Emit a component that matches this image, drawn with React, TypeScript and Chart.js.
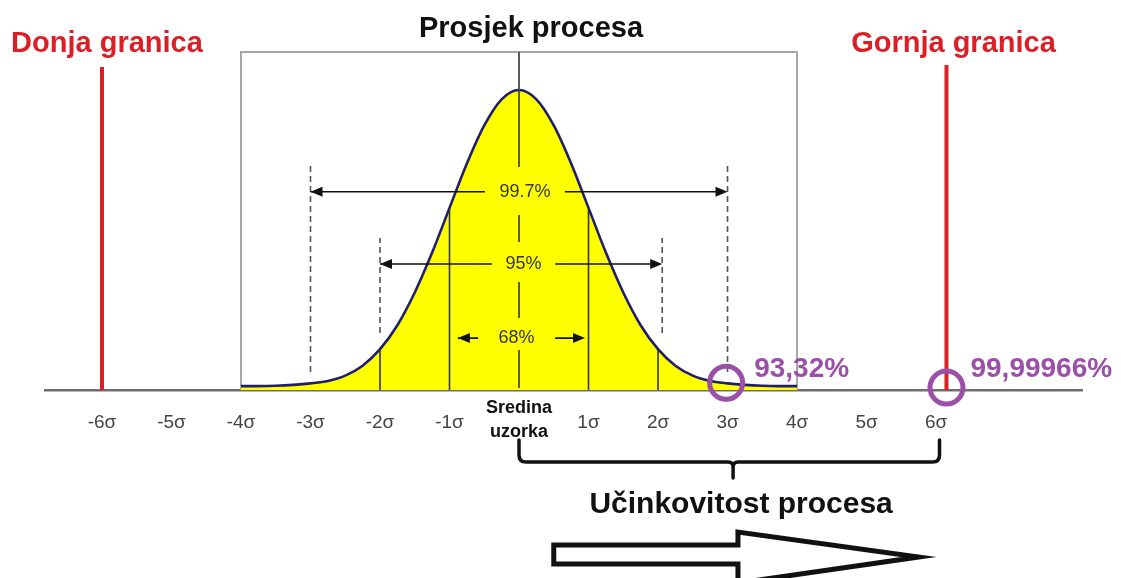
import React, { useEffect, useRef } from 'react';
import { Chart, registerables } from 'chart.js';

Chart.register(...registerables);

const FONT = 'Arial, "Liberation Sans", Helvetica, sans-serif';
const RED = '#dc1f26';
const PURPLE = '#9b4fa9';

// axis
const tickValues = [-6, -5, -4, -3, -2, -1, 0, 1, 2, 3, 4, 5, 6];
const tickLabels: (string | string[])[] = ['-6σ', '-5σ', '-4σ', '-3σ', '-2σ', '-1σ', ['Sredina', 'uzorka'], '1σ', '2σ', '3σ', '4σ', '5σ', '6σ'];

// bell curve (height in % of peak)
const curveX = [-4, -3.75, -3.5, -3.25, -3, -2.75, -2.5, -2.25, -2, -1.75, -1.5, -1.25, -1, -0.75, -0.5, -0.25, 0, 0.25, 0.5, 0.75, 1, 1.25, 1.5, 1.75, 2, 2.25, 2.5, 2.75, 3, 3.25, 3.5, 3.75, 4];
const curveY = [1.3, 1.3, 1.4, 1.7, 2.2, 3.0, 4.8, 8.1, 13.6, 21.6, 32.5, 45.8, 60.7, 75.5, 88.2, 96.9, 100, 96.9, 88.2, 75.5, 60.7, 45.8, 32.5, 21.6, 13.6, 8.1, 4.8, 3.0, 2.2, 1.7, 1.4, 1.3, 1.3];

// frame around the curve
const boxX = [-4, 4];
const boxTop = 112.7;

// specification limits (Donja / Gornja granica)
const limitX = [-6, 6.15];
const limitTop = [107.7, 108.3];
const limitLabels = ['Donja granica', 'Gornja granica'];

// mean line pieces (broken by the percentage labels)
const meanSegments: [number, number][] = [[112.7, 74.3], [58.3, 49.3], [36, 24], [13.3, 0.7]];

// solid sigma lines under the curve
const sigmaLineX = [-2, -1, 1, 2];

// dashed guide lines
const guideX = [-3, -2, 2.06, 3];
const guideTop = [75, 50.7, 50.7, 75];
const guideBottom = [6, 19, 19, 6];

// span arrows
const arrowLabels = ['99.7%', '95%', '68%'];
const arrowLevel = [66.1, 42, 17.3];
const arrowFrom = [-3, -2, -0.88];
const arrowTo = [3, 2.06, 0.95];
const arrowGapFrom = [-0.49, -0.39, -0.59];
const arrowGapTo = [0.66, 0.52, 0.52];

// circled yields
const markX = [2.98, 6.15];
const markY = [2.4, 0.8];
const markLabels = ['93,32%', '99,99966%'];

// brace "Učinkovitost procesa"
const braceFrom = 0;
const braceTo = 6.05;
const braceMid = 3.08;
const arrowBig = [0.5, 3.15, 5.75];

type P = { x: number; y: number | null };
const segs = (list: [number, number][][]): P[] => {
  const out: P[] = [];
  list.forEach((s, i) => {
    if (i) out.push({ x: s[0][0], y: null });
    s.forEach(([x, y]) => out.push({ x, y }));
  });
  return out;
};
const curveAt = (x: number) => curveY[curveX.indexOf(x)];

const base = { type: 'line' as const, pointRadius: 0, tension: 0, fill: false, spanGaps: false };

function head(ctx: CanvasRenderingContext2D, x: number, y: number, dir: number) {
  ctx.beginPath();
  ctx.moveTo(x, y);
  ctx.lineTo(x - dir * 12, y - 5);
  ctx.lineTo(x - dir * 12, y + 5);
  ctx.closePath();
  ctx.fill();
}

const overlay = {
  id: 'overlay',
  afterDatasetsDraw(chart: any) {
    const ctx: CanvasRenderingContext2D = chart.ctx;
    const xs = (v: number) => chart.scales.x.getPixelForValue(v);
    const ys = (v: number) => chart.scales.y.getPixelForValue(v);
    ctx.save();

    // arrowheads and labels
    arrowLabels.forEach((lab, i) => {
      const y = ys(arrowLevel[i]);
      ctx.fillStyle = '#111';
      head(ctx, xs(arrowFrom[i]), y, -1);
      head(ctx, xs(arrowTo[i]), y, 1);
      ctx.fillStyle = '#333';
      ctx.font = `18px ${FONT}`;
      ctx.textAlign = 'center';
      ctx.textBaseline = 'middle';
      ctx.fillText(lab, xs((arrowGapFrom[i] + arrowGapTo[i]) / 2), y);
    });

    ctx.textBaseline = 'alphabetic';
    // titles
    ctx.font = `bold 29px ${FONT}`;
    ctx.textAlign = 'center';
    ctx.fillStyle = '#111';
    ctx.fillText('Prosjek procesa', xs(0) + 12, ys(boxTop) - 15);
    ctx.fillStyle = RED;
    ctx.fillText(limitLabels[0], xs(limitX[0]) + 5, 52);
    ctx.fillText(limitLabels[1], xs(limitX[1]) + 7, 52);

    // purple yields
    ctx.font = `bold 28px ${FONT}`;
    ctx.fillStyle = PURPLE;
    ctx.textAlign = 'left';
    ctx.fillText(markLabels[0], xs(markX[0]) + 28, ys(0) - 13);
    ctx.fillText(markLabels[1], xs(markX[1]) + 24, ys(0) - 13);

    // brace
    const x0 = xs(braceFrom), x1 = xs(braceTo), xm = xs(braceMid);
    const yTop = ys(0) + 50, yBar = ys(0) + 72, yTip = ys(0) + 88, r = 7;
    ctx.strokeStyle = '#111';
    ctx.lineWidth = 3.5;
    ctx.lineJoin = 'round';
    ctx.lineCap = 'round';
    ctx.beginPath();
    ctx.moveTo(x0, yTop);
    ctx.lineTo(x0, yBar - r);
    ctx.quadraticCurveTo(x0, yBar, x0 + r, yBar);
    ctx.lineTo(xm - 5, yBar);
    ctx.quadraticCurveTo(xm, yBar, xm, yBar + 5);
    ctx.lineTo(xm, yTip);
    ctx.moveTo(xm, yBar + 5);
    ctx.quadraticCurveTo(xm, yBar, xm + 5, yBar);
    ctx.lineTo(x1 - r, yBar);
    ctx.quadraticCurveTo(x1, yBar, x1, yBar - r);
    ctx.lineTo(x1, yTop);
    ctx.stroke();

    ctx.font = `bold 30px ${FONT}`;
    ctx.fillStyle = '#111';
    ctx.textAlign = 'center';
    ctx.fillText('Učinkovitost procesa', xm + 8, ys(0) + 123);

    // hollow arrow
    const b = ys(0);
    const ax0 = xs(arrowBig[0]), ax1 = xs(arrowBig[1]), ax2 = xs(arrowBig[2]);
    ctx.beginPath();
    ctx.moveTo(ax0, b + 155);
    ctx.lineTo(ax1, b + 155);
    ctx.lineTo(ax1, b + 142);
    ctx.lineTo(ax2, b + 167);
    ctx.lineTo(ax1, b + 193);
    ctx.lineTo(ax1, b + 174);
    ctx.lineTo(ax0, b + 174);
    ctx.closePath();
    ctx.fillStyle = '#fff';
    ctx.fill();
    ctx.lineWidth = 5;
    ctx.lineJoin = 'miter';
    ctx.stroke();

    ctx.restore();
  },
};

export default function App() {
  const ref = useRef<HTMLCanvasElement>(null);
  useEffect(() => {
    document.body.style.margin = '0';
    const datasets: any[] = [
      {
        ...base, label: 'marks', order: 0, showLine: false, clip: false,
        data: markX.map((x, i) => ({ x, y: markY[i] })),
        pointRadius: 16.5, pointBorderWidth: 5, pointBorderColor: PURPLE, pointBackgroundColor: 'rgba(0,0,0,0)',
      },
      {
        ...base, label: 'limits', order: 1, clip: false, borderColor: RED, borderWidth: 4,
        data: segs(limitX.map((x, i) => [[x, 0], [x, limitTop[i]]])),
      },
      ...arrowLabels.map((l, i) => ({
        ...base, label: 'arrow ' + l, order: 2, borderColor: '#111', borderWidth: 1.6,
        data: segs([[[arrowFrom[i], arrowLevel[i]], [arrowGapFrom[i], arrowLevel[i]]], [[arrowGapTo[i], arrowLevel[i]], [arrowTo[i] - 0.1, arrowLevel[i]]]]),
      })),
      {
        ...base, label: 'mean', order: 3, borderColor: '#4a4a4a', borderWidth: 1.8,
        data: segs(meanSegments.map(([a, b]) => [[0, a], [0, b]])),
      },
      {
        ...base, label: 'sigma', order: 4, borderColor: '#333', borderWidth: 1.6,
        data: segs(sigmaLineX.map((x) => [[x, 0], [x, curveAt(x)]])),
      },
      {
        ...base, label: 'guides', order: 5, borderColor: '#555', borderWidth: 1.6, borderDash: [6, 4],
        data: segs(guideX.map((x, i) => [[x, guideBottom[i]], [x, guideTop[i]]])),
      },
      {
        ...base, label: 'curve', order: 8, fill: 'origin', backgroundColor: '#ffff00', borderColor: '#1f1f72', borderWidth: 2.6,
        cubicInterpolationMode: 'monotone',
        data: curveX.map((x, i) => ({ x, y: curveY[i] })),
      },
      {
        ...base, label: 'box', order: 9, borderColor: '#a6a6a6', borderWidth: 2,
        data: [{ x: boxX[0], y: 0 }, { x: boxX[0], y: boxTop }, { x: boxX[1], y: boxTop }, { x: boxX[1], y: 0 }],
      },
    ];

    const chart = new Chart(ref.current as HTMLCanvasElement, {
      type: 'line',
      data: { datasets },
      options: {
        animation: false,
        responsive: true,
        maintainAspectRatio: false,
        devicePixelRatio: 1,
        events: [],
        layout: { autoPadding: false, padding: { left: 45, right: 39, top: 0, bottom: 0 } },
        plugins: { legend: { display: false }, tooltip: { enabled: false }, title: { display: false } },
        scales: {
          x: {
            type: 'linear',
            min: -6.82,
            max: 8.1,
            afterBuildTicks: (s: any) => { s.ticks = tickValues.map((v) => ({ value: v })); },
            afterFit: (s: any) => { s.height = 188; },
            grid: { display: false, drawTicks: false },
            border: { display: true, color: '#6e6e6e', width: 2.5 },
            ticks: {
              autoSkip: false,
              maxRotation: 0,
              padding: 6,
              callback: (_v: any, i: number) => tickLabels[i],
              font: (c: any) => (c.tick && c.tick.value === 0
                ? { family: FONT, size: 18, weight: 'bold', lineHeight: '24px' }
                : { family: FONT, size: 19, lineHeight: '54px' }),
              color: (c: any) => (c.tick && c.tick.value === 0 ? '#111' : '#444'),
            },
          },
          y: { type: 'linear', display: false, min: 0, max: 130 },
        },
      } as any,
      plugins: [overlay],
    });
    return () => chart.destroy();
  }, []);
  return (
    <div style={{ position: 'relative', width: 1121, height: 578 }}>
      <canvas ref={ref} />
    </div>
  );
}
